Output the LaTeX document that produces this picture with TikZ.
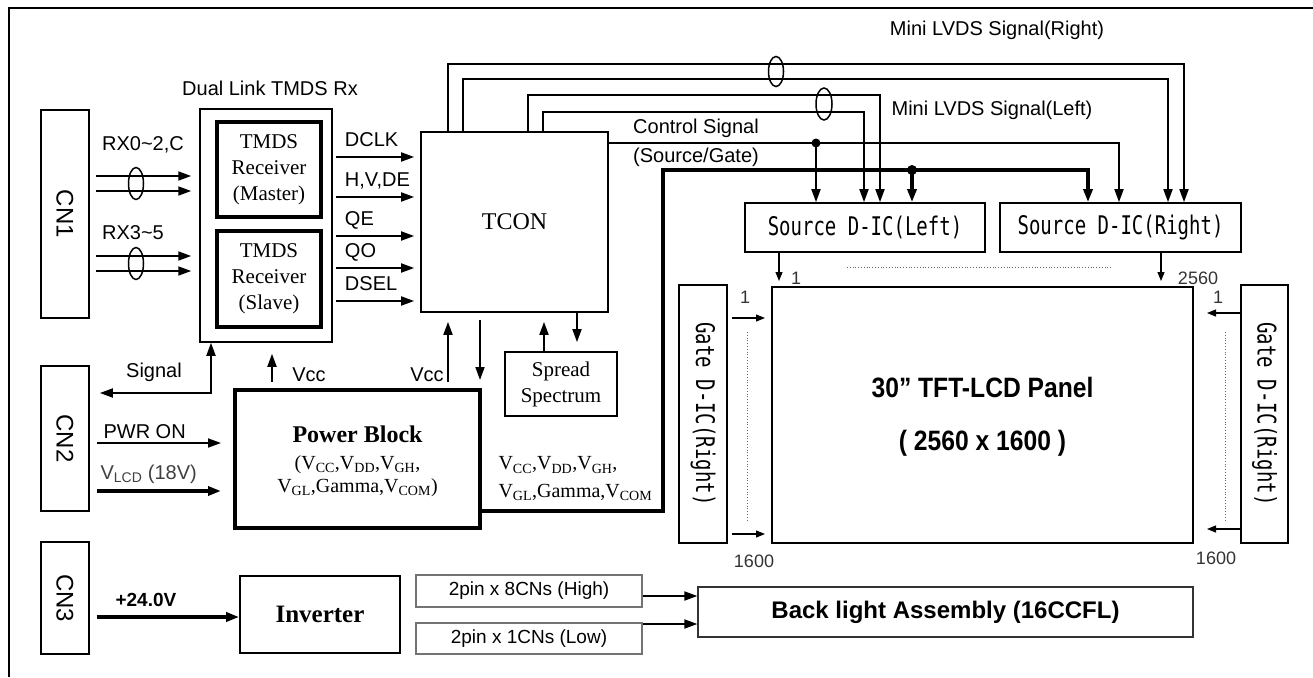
\documentclass[tikz,border=0pt]{standalone}
\usepackage{fontspec}
\usepackage{graphicx}
\setmainfont{Liberation Serif}
\setsansfont{Liberation Sans}
\setmonofont{DejaVu Sans Mono}
\usetikzlibrary{arrows.meta}

\newcommand\lblfnt{\sffamily\fontsize{20}{24}\selectfont}
\newcommand\serfnt{\rmfamily\fontsize{20}{26}\selectfont}
\newcommand\boxfnt{\rmfamily\fontsize{21}{26}\selectfont}
\newcommand\numfnt{\sffamily\fontsize{18}{20}\selectfont\color{black!80}}
\newcommand\cnfnt{\sffamily\fontsize{24}{28}\selectfont}
\newcommand\ictext[1]{\scalebox{1}[1.35]{\ttfamily\fontsize{19}{22}\selectfont #1}}

\tikzset{
	blk/.style={draw, line width=1.7pt, inner sep=0pt},
	heavy/.style={draw, line width=4pt, inner sep=0pt},
	sig/.style={line width=1.8pt, -{Triangle[length=13pt,width=9pt]}},
	sigboth/.style={line width=1.8pt, {Triangle[length=13pt,width=9pt]}-{Triangle[length=13pt,width=9pt]}},
	fat/.style={line width=3.6pt, -{Triangle[length=13pt,width=9pt]}},
	fine/.style={line width=1.2pt, -{Triangle[length=9pt,width=7pt]}},
	dotline/.style={black!60, line width=0.8pt, dotted},
}

\begin{document}
\begin{tikzpicture}[x=1pt,y=-1pt]
	\useasboundingbox (0,0) rectangle (1313,677);
	\draw[line width=2pt] (9,677) -- (9,8) -- (1313,8);
	
	% connectors
	\node[blk, minimum width=48pt, minimum height=208pt] (cnone) at (65,214) {\rotatebox{-90}{\cnfnt CN1}};
	\node[blk, minimum width=48pt, minimum height=145pt] (cntwo) at (65,438.5) {\rotatebox{-90}{\cnfnt CN2}};
	\node[blk, minimum width=48pt, minimum height=112pt] (cnthree) at (65,598) {\rotatebox{-90}{\cnfnt CN3}};
	
	% receivers
	\node[draw, line width=1.5pt, minimum width=132pt, minimum height=233pt] (dual) at (266,225.5) {};
	\node[font=\lblfnt] (duallbl) at (270,88) {Dual Link TMDS Rx};
	\node[heavy, minimum width=104pt, minimum height=95pt, align=center, font=\boxfnt] (master) at (269,169.5) {TMDS\\Receiver\\(Master)};
	\node[heavy, minimum width=104pt, minimum height=96pt, align=center, font=\boxfnt] (slave) at (269,279) {TMDS\\Receiver\\(Slave)};
	\node[blk, minimum width=187pt, minimum height=180pt, font=\rmfamily\fontsize{24}{28}\selectfont] (tcon) at (514.5,222) {TCON};
	\node[blk, minimum width=112pt, minimum height=64pt, align=center, font=\boxfnt] (spread) at (561,384) {Spread\\Spectrum};
	
	% power
	\node[heavy, minimum width=245pt, minimum height=138pt] (power) at (357.5,459) {};
	\node[font=\rmfamily\bfseries\fontsize{24}{28}\selectfont] (pbtitle) at ([yshift=25pt]power.center) {Power Block};
	\node[font=\serfnt] (pbsubA) at ([yshift=-6pt]power.center) {(V\textsubscript{CC},V\textsubscript{DD},V\textsubscript{GH},};
	\node[font=\serfnt] (pbsubB) at ([yshift=-29pt]power.center) {V\textsubscript{GL},Gamma,V\textsubscript{COM})};
	\node[font=\serfnt, anchor=west] (outsubA) at (495,465) {V\textsubscript{CC},V\textsubscript{DD},V\textsubscript{GH},};
	\node[font=\serfnt, anchor=west] (outsubB) at (495,492) {V\textsubscript{GL},Gamma,V\textsubscript{COM}};
	
	% backlight
	\node[blk, minimum width=160pt, minimum height=77pt, font=\rmfamily\bfseries\fontsize{25}{28}\selectfont] (inverter) at (320,614.5) {Inverter};
	\node[draw=black!55, line width=1.2pt, minimum width=226pt, minimum height=32pt, font=\sffamily\fontsize{19}{22}\selectfont] (high) at (529,591) {2pin x 8CNs (High)};
	\node[draw=black!55, line width=1.2pt, minimum width=226pt, minimum height=31pt, font=\sffamily\fontsize{19}{22}\selectfont] (low) at (529,638.5) {2pin x 1CNs (Low)};
	\node[draw=black!80, line width=1.3pt, minimum width=495pt, minimum height=50pt, font=\sffamily\bfseries\fontsize{24}{28}\selectfont] (backlight) at (945.5,612) {Back light Assembly (16CCFL)};
	
	% panel side
	\node[blk, minimum width=240pt, minimum height=49pt] (srcleft) at (865,227.5) {\ictext{Source D-IC(Left)}};
	\node[blk, minimum width=241pt, minimum height=49pt] (srcright) at (1120.5,227.5) {\ictext{Source D-IC(Right)}};
	\node[draw, line width=2pt, minimum width=421pt, minimum height=256pt] (panel) at (982.5,415) {};
	\node[font=\sffamily\bfseries\fontsize{28}{32}\selectfont] (paneltitle) at ([yshift=27pt]panel.center) {\scalebox{0.88}[1]{30” TFT-LCD Panel}};
	\node[font=\sffamily\bfseries\fontsize{28}{32}\selectfont] (panelres) at ([yshift=-28pt]panel.center) {\scalebox{0.88}[1]{( 2560 x 1600 )}};
	\node[blk, minimum width=48pt, minimum height=258pt] (gateleft) at (703,414) {\rotatebox{-90}{\ictext{Gate D-IC(Right)}}};
	\node[blk, minimum width=47pt, minimum height=258pt] (gateright) at (1264.5,414) {\rotatebox{-90}{\ictext{Gate D-IC(Right)}}};
	
	% inputs
	\foreach \y in {176,191,256,271}{
		\draw[sig] ([xshift=6pt]cnone.east |- 0,\y) -- ([xshift=-8pt]dual.west |- 0,\y);
	}
	\draw[line width=1.5pt] (136,183.5) ellipse [x radius=7.5pt, y radius=16pt];
	\draw[line width=1.5pt] (136,263.5) ellipse [x radius=7.5pt, y radius=16pt];
	\node[font=\lblfnt] (rxa) at (143,145) {RX0\textasciitilde 2,C};
	\node[font=\lblfnt] (rxb) at (133,233) {RX3\textasciitilde 5};
	
	\foreach \y/\t in {157/DCLK,197/{H,V,DE},236/QE,268/QO,301/DSEL}{
		\draw[sig] ([xshift=3pt]dual.east |- 0,\y) -- ([xshift=-6pt]tcon.west |- 0,\y)
			node[pos=0, anchor=base west, font=\lblfnt, xshift=5pt, yshift=11pt] {\t};
	}
	
	% signal and vcc
	\draw[sigboth] ([xshift=10pt]cntwo.east |- 0,393) -| (dual.south -| 211,0);
	\node[font=\lblfnt] (siglbl) at (154,372) {Signal};
	\draw[sig] ([yshift=6pt]power.north -| 272,0) -- ([yshift=-11pt]dual.south -| 272,0);
	\node[font=\lblfnt] (vcca) at (309,375) {Vcc};
	\draw[sig] ([yshift=6pt]power.north -| 448,0) -- ([yshift=-9pt]tcon.south -| 448,0);
	\node[font=\lblfnt] (vccb) at (427,375) {Vcc};
	\draw[sig] ([yshift=-7pt]tcon.south -| 480,0) -- ([yshift=8pt]power.north -| 480,0);
	\draw[sig] (spread.north -| 544,0) -- ([yshift=-9pt]tcon.south -| 544,0);
	\draw[sig] (tcon.south -| 577,0) -- ([yshift=9pt]spread.north -| 577,0);
	
	\draw[sig] ([xshift=7pt]cntwo.east |- 0,443) -- ([xshift=-12pt]power.west |- 0,443);
	\node[font=\lblfnt, anchor=base west] (pwron) at (100,438) {PWR ON};
	\draw[fat] ([xshift=7pt]cntwo.east |- 0,491) -- ([xshift=-12pt]power.west |- 0,491);
	\node[font=\lblfnt, anchor=base west, text=black!75] (vlcd) at (97,479) {V\textsubscript{LCD} (18V)};
	\draw[fat] ([xshift=7pt]cnthree.east |- 0,617) -- (inverter.west |- 0,617);
	\node[font=\sffamily\bfseries\fontsize{19}{22}\selectfont, anchor=base west] (plusv) at (112,606) {+24.0V};
	\draw[sig] (high.east |- 0,596) -- (backlight.west |- 0,596);
	\draw[sig] (low.east |- 0,624) -- (backlight.west |- 0,624);
	
	% mini lvds
	\foreach \xa/\ya/\xb/\dst in {448/64/1184/srcright,463/79/1168/srcright,528/95/880/srcleft,543/112/864/srcleft}{
		\draw[sig] (tcon.north -| \xa,0) |- (\xb,\ya) -- (\dst.north -| \xb,0);
	}
	\draw[line width=1.5pt] (776,71.5) ellipse [x radius=7.5pt, y radius=15pt];
	\draw[line width=1.5pt] (824,104) ellipse [x radius=8pt, y radius=16pt];
	\node[font=\lblfnt] (lvdsr) at (997,30) {Mini LVDS Signal(Right)};
	\node[font=\lblfnt] (lvdsl) at (992,110) {Mini LVDS Signal(Left)};
	
	% control and supply to source
	\draw[sig] (tcon.east |- 0,143) -| (srcright.north -| 1119,0);
	\fill (816,143) circle[radius=4.5pt];
	\draw[sig] (816,143) -- (srcleft.north -| 816,0);
	\node[font=\lblfnt] (ctrla) at (696,128) {Control Signal};
	\node[font=\lblfnt] (ctrlb) at (696,157) {(Source/Gate)};
	\draw[fat] (power.east |- 0,511) -| (663,170) -| (srcright.north -| 1088,0);
	\fill (912,170) circle[radius=5pt];
	\draw[fat] (912,170) -- (srcleft.north -| 912,0);
	
	% panel lines
	\draw[fine] (srcleft.south -| 779,0) -- ([yshift=5pt]panel.north -| 779,0);
	\draw[fine] (srcright.south -| 1161,0) -- ([yshift=5pt]panel.north -| 1161,0);
	\foreach \y in {318,534}{
		\draw[fine] ([xshift=4pt]gateleft.east |- 0,\y) -- ([xshift=-6pt]panel.west |- 0,\y);
	}
	\foreach \y in {313,529}{
		\draw[fine] (gateright.west |- 0,\y) -- ([xshift=13pt]panel.east |- 0,\y);
	}
	\draw[dotline] (847,267) -- (1112,267);
	\draw[dotline] (747,332) -- (747,520);
	\draw[dotline] (1225,332) -- (1225,522);
	\node[font=\numfnt] (numa) at (796,278) {1};
	\node[font=\numfnt] (numb) at (1198,278) {2560};
	\node[font=\numfnt] (numc) at (745,297) {1};
	\node[font=\numfnt] (numd) at (754,561) {1600};
	\node[font=\numfnt] (nume) at (1218,297) {1};
	\node[font=\numfnt] (numf) at (1216,558) {1600};
\end{tikzpicture}
\end{document}
